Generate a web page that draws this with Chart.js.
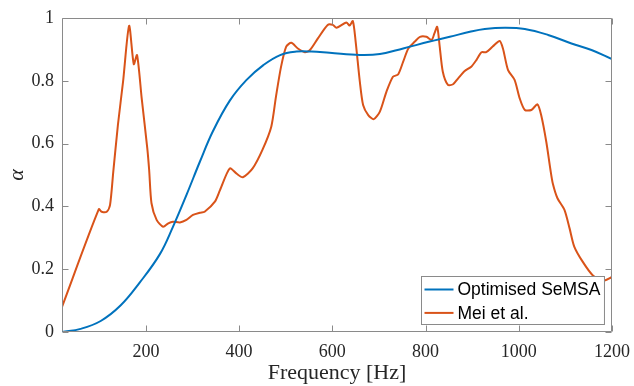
<!DOCTYPE html>
<html>
<head>
<meta charset="utf-8">
<script src="https://cdn.jsdelivr.net/npm/chart.js@4"></script>
<style>
  html, body { margin: 0; padding: 0; background: #fff; }
  #wrap { width: 634px; height: 386px; }
</style>
</head>
<body>
<div id="wrap"><canvas id="chart" width="634" height="386"></canvas></div>
<script>
// tick values
const xTicks = [200, 400, 600, 800, 1000, 1200];
const yTicks = [0, 0.2, 0.4, 0.6, 0.8, 1];

// Optimised SeMSA
const semsaFreq = [20, 60, 103, 146, 187, 230, 258, 288, 316, 344, 380, 416, 452, 488, 523, 555,
    594, 659, 702, 752, 809, 852, 895, 927, 970, 1013, 1063, 1113, 1156, 1200];
const semsaAlpha = [0, 0.01, 0.035, 0.085, 0.158, 0.248, 0.335, 0.44, 0.543, 0.64, 0.737, 0.803, 0.85, 0.882, 0.893, 0.893,
    0.889, 0.882, 0.885, 0.903, 0.925, 0.94, 0.956, 0.965, 0.969, 0.965, 0.946, 0.919, 0.898, 0.869];

// Mei et al.
const meiFreq = [20, 99, 105, 116, 123, 130, 140, 151, 164, 174, 181, 191, 203, 207, 212, 223, 237, 248,
    258, 273, 287, 301, 316, 326, 348, 359, 380, 394, 408, 429, 450, 469, 479, 490, 501, 512, 526,
    541, 552, 569, 590, 601, 609, 630, 637, 644, 650, 659, 666, 677, 689, 702, 716, 730, 741, 752,
    763, 777, 788, 802, 813, 819, 825, 830, 837, 848, 859, 870, 884, 898, 909, 920, 930, 944, 959,
    966, 977, 991, 1002, 1013, 1027, 1040, 1048, 1059, 1068, 1073, 1083, 1098, 1109, 1119, 1137,
    1159, 1180, 1200];
const meiAlpha = [0.08, 0.391, 0.383, 0.383, 0.404, 0.51, 0.66, 0.797, 0.975, 0.853, 0.882, 0.744, 0.585, 0.516, 0.41, 0.357, 0.335, 0.346,
    0.351, 0.349, 0.357, 0.373, 0.38, 0.383, 0.415, 0.452, 0.521, 0.505, 0.493, 0.521, 0.58, 0.654, 0.749, 0.845, 0.909, 0.921, 0.903,
    0.891, 0.898, 0.935, 0.978, 0.978, 0.969, 0.986, 0.976, 0.99, 0.925, 0.797, 0.723, 0.691, 0.678, 0.702, 0.765, 0.813, 0.82, 0.861,
    0.903, 0.925, 0.94, 0.94, 0.93, 0.951, 0.972, 0.914, 0.829, 0.787, 0.789, 0.808, 0.831, 0.845, 0.866, 0.891, 0.891, 0.909, 0.927,
    0.903, 0.834, 0.803, 0.744, 0.707, 0.707, 0.725, 0.691, 0.606, 0.516, 0.473, 0.426, 0.389, 0.33, 0.272, 0.224,
    0.18, 0.163, 0.175];

const axisColor = '#8a8a8a';
const tickFont = { family: 'Liberation Serif', size: 18 };

function toPoints(xs, ys) {
    return xs.map((x, i) => ({ x: x, y: ys[i] }));
}

// box round the axes with inward ticks, like matlab
const boxPlugin = {
    id: 'box',
    afterDatasetsDraw(chart) {
        const { ctx, chartArea: area, scales } = chart;
        const l = Math.round(area.left) + 0.5, r = Math.round(area.right) - 0.5;
        const t = Math.round(area.top) + 0.5, b = Math.round(area.bottom) - 0.5;
        const len = 6;
        ctx.save();
        ctx.strokeStyle = axisColor;
        ctx.lineWidth = 1;
        ctx.beginPath();
        ctx.rect(l, t, r - l, b - t);
        xTicks.forEach(v => {
            const px = Math.round(scales.x.getPixelForValue(v)) + 0.5;
            ctx.moveTo(px, b); ctx.lineTo(px, b - len);
            ctx.moveTo(px, t); ctx.lineTo(px, t + len);
        });
        yTicks.forEach(v => {
            const py = Math.round(scales.y.getPixelForValue(v)) + 0.5;
            ctx.moveTo(l, py); ctx.lineTo(l + len, py);
            ctx.moveTo(r, py); ctx.lineTo(r - len, py);
        });
        ctx.stroke();
        ctx.restore();
    }
};

// legend in the lower right corner of the plot
const legendPlugin = {
    id: 'boxLegend',
    afterDraw(chart) {
        const { ctx, chartArea: area } = chart;
        const sets = chart.data.datasets;
        ctx.save();
        ctx.font = '17.5px "Liberation Sans"';
        const textW = Math.max(...sets.map(d => ctx.measureText(d.label).width));
        const w = 3 + 29 + 4 + textW + 4;
        const h = 48;
        const x0 = Math.round(area.right - 8 - w) + 0.5;
        const y0 = Math.round(area.bottom - 8 - h) + 0.5;
        ctx.fillStyle = '#fff';
        ctx.fillRect(x0, y0, w, h);
        ctx.strokeStyle = axisColor;
        ctx.lineWidth = 1;
        ctx.strokeRect(x0, y0, w, h);
        ctx.textBaseline = 'middle';
        ctx.fillStyle = '#000';
        sets.forEach((d, i) => {
            const cy = y0 + 13 + i * 23.4;
            ctx.strokeStyle = d.borderColor;
            ctx.lineWidth = 2;
            ctx.beginPath();
            ctx.moveTo(x0 + 3, cy);
            ctx.lineTo(x0 + 32, cy);
            ctx.stroke();
            ctx.fillText(d.label, x0 + 36, cy + 1);
        });
        ctx.restore();
    }
};

new Chart(document.getElementById('chart'), {
    type: 'line',
    data: {
        datasets: [
            {
                label: 'Optimised SeMSA',
                data: toPoints(semsaFreq, semsaAlpha),
                borderColor: '#0072BD',
                borderWidth: 2,
                pointRadius: 0,
                tension: 0.4
            },
            {
                label: 'Mei et al.',
                data: toPoints(meiFreq, meiAlpha),
                borderColor: '#D95319',
                borderWidth: 2,
                pointRadius: 0,
                tension: 0.25
            }
        ]
    },
    options: {
        responsive: false,
        animation: false,
        events: [],
        layout: { padding: { top: 18, right: 22, left: 0, bottom: 0 } },
        plugins: {
            legend: { display: false },
            tooltip: { enabled: false }
        },
        scales: {
            x: {
                type: 'linear',
                min: 20,
                max: 1200,
                afterBuildTicks: s => { s.ticks = xTicks.map(v => ({ value: v })); },
                afterFit: s => { s.height = 54; s.paddingLeft = 0; s.paddingRight = 0; },
                grid: { display: false, drawTicks: false },
                border: { display: false },
                ticks: { color: '#262626', font: tickFont, padding: 9, maxRotation: 0, callback: v => String(v) },
                title: {
                    display: true,
                    text: 'Frequency [Hz]',
                    color: '#262626',
                    font: { family: 'Liberation Serif', size: 22 },
                    padding: { top: 0, bottom: 0 }
                }
            },
            y: {
                min: 0,
                max: 1,
                afterBuildTicks: s => { s.ticks = yTicks.map(v => ({ value: v })); },
                afterFit: s => { s.width = 62; s.paddingTop = 0; s.paddingBottom = 0; },
                grid: { display: false, drawTicks: false },
                border: { display: false },
                ticks: { color: '#262626', font: tickFont, padding: 8, callback: v => String(v) },
                title: {
                    display: true,
                    text: 'α',
                    color: '#262626',
                    font: { family: 'Liberation Serif', size: 22, style: 'italic' },
                    padding: { top: 4, bottom: 0 }
                }
            }
        }
    },
    plugins: [boxPlugin, legendPlugin]
});
</script>
</body>
</html>
